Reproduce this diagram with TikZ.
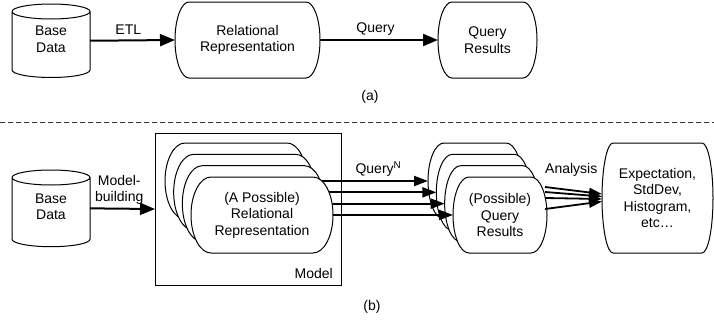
\documentclass[tikz,border=0pt]{standalone}
\usepackage{fontspec}
\setmainfont{Liberation Sans}
\usetikzlibrary{calc,arrows.meta}
\pgfdeclarelayer{low}
\pgfdeclarelayer{mid}
\pgfdeclarelayer{high}
\pgfsetlayers{low,mid,high,main}
\tikzset{
  shapeline/.style={draw=black, line width=1pt, fill=white},
  holder/.style 2 args={inner sep=0pt, outer sep=0pt, minimum width=#1, minimum height=#2, align=center},
  flow/.style={line width=2pt, -{Triangle[length=15pt,width=12pt]}},
  multi/.style={line width=2pt, -{Triangle[length=14pt,width=10pt]}},
  ana/.style={line width=1.8pt, -{Triangle[length=13pt,width=9pt]}},
  lbl/.style={align=center, inner sep=0pt},
}
\newcommand\cylshape[2]{%
  \draw[shapeline] let \p1=(#1.north west), \p2=(#1.south east), \n1={(\x2-\x1)/2} in
    (\x1,\y1-#2pt) -- (\x1,\y2+#2pt) arc[start angle=180,end angle=360,x radius=\n1,y radius=#2pt]
    -- (\x2,\y1-#2pt) arc[start angle=0,end angle=180,x radius=\n1,y radius=#2pt] -- cycle
    (\x1,\y1-#2pt) arc[start angle=180,end angle=360,x radius=\n1,y radius=#2pt];}
\newcommand\termshape[2]{%
  \draw[shapeline] let \p1=(#1.north west), \p2=(#1.south east), \n1={(\y1-\y2)/2} in
    (\x1+#2pt,\y1) -- (\x2-#2pt,\y1) arc[start angle=90,end angle=-90,x radius=#2pt,y radius=\n1]
    -- (\x1+#2pt,\y2) arc[start angle=270,end angle=90,x radius=#2pt,y radius=\n1] -- cycle;}
\begin{document}
\begin{tikzpicture}[x=1pt,y=1pt,font=\fontsize{14}{16.5}\selectfont]
\useasboundingbox (0,0) rectangle (714,-324);
% ---------------- (a)
\node[holder={78}{73.5}] (bdA) at (51,-40.75) {\raisebox{-3.75pt}{\begin{tabular}{@{}c@{}}Base\\Data\end{tabular}}};
\node[holder={145}{76}] (rrA) at (247.5,-40) {Relational\\Representation};
\node[holder={99}{76}] (qrA) at (487.5,-40) {Query\\Results};
\begin{pgfonlayer}{high}
\cylshape{bdA}{7.5}
\termshape{rrA}{14}
\termshape{qrA}{14}
\end{pgfonlayer}
\draw[flow] (bdA.east) -- node[lbl,pos=0.45,yshift=11pt] {ETL} (rrA.west);
\draw[flow] (rrA.east) -- node[lbl,pos=0.47,yshift=11pt] {Query} (qrA.west);
\node[lbl] (capA) at (370,-97) {(a)};
% ---------------- separator
\draw[black!80, line width=0.9pt, dash pattern=on 4.5pt off 3.5pt] (0,-122) -- (714,-122);
% ---------------- (b)
\node[holder={78}{76.7}] (bdB) at (51,-208.35) {\raisebox{-3pt}{\begin{tabular}{@{}c@{}}Base\\Data\end{tabular}}};
\node[holder={186}{152}, draw, line width=1pt] (model) at (248,-209) {};
\node[anchor=base east, inner sep=0pt] (modellbl) at ($(model.south east)+(-8,7)$) {Model};
\node[holder={142}{76}] (rr1) at (236,-181) {};
\node[holder={142}{76}] (rr2) at (244.67,-192.33) {};
\node[holder={142}{76}] (rr3) at (253.33,-203.67) {};
\node[holder={142}{76}] (rr4) at (262,-215) {(A Possible)\\Relational\\Representation};
\node[holder={94}{76}] (qr1) at (475,-181) {};
\node[holder={94}{76}] (qr2) at (483.33,-192.33) {};
\node[holder={94}{76}] (qr3) at (491.67,-203.67) {};
\node[holder={94}{76}] (qr4) at (500,-215) {(Possible)\\Query\\Results};
\node[holder={111}{110}] (fin) at (657.5,-198) {Expectation,\\StdDev,\\Histogram,\\etc…};
\begin{pgfonlayer}{low}
\termshape{qr1}{16}
\termshape{qr2}{16}
\termshape{qr3}{16}
\termshape{qr4}{16}
\end{pgfonlayer}
\begin{pgfonlayer}{high}
\cylshape{bdB}{7.5}
\termshape{rr1}{20}
\termshape{rr2}{20}
\termshape{rr3}{20}
\termshape{rr4}{20}
\termshape{fin}{11}
\end{pgfonlayer}
\draw[flow] (bdB.east) -- node[lbl,pos=0.45,yshift=19pt] {Model-\\building} (model.west);
\begin{pgfonlayer}{mid}
\draw[multi] (rr1.east) -- node[lbl,pos=0.59,yshift=12pt] {Query\textsuperscript{N}} (qr1.west);
\draw[multi] (rr2.east) -- (qr2.west);
\draw[multi] (rr3.east) -- (qr3.west);
\draw[multi] (rr4.east) -- (qr4.west);
\end{pgfonlayer}
\draw[ana] ($(qr4.east)+(-2,28)$) -- node[lbl,pos=0.46,yshift=20pt] {Analysis} ($(fin.west)+(0,4)$);
\draw[ana] ($(qr4.east)+(-2,23)$) -- ($(fin.west)+(0,1.5)$);
\draw[ana] ($(qr4.east)+(-2,17)$) -- ($(fin.west)+(0,-1)$);
\draw[ana] ($(qr4.east)+(-2,6)$) -- ($(fin.west)+(0,-3.5)$);
\node[lbl] (capB) at (372,-307) {(b)};
\end{tikzpicture}
\end{document}
